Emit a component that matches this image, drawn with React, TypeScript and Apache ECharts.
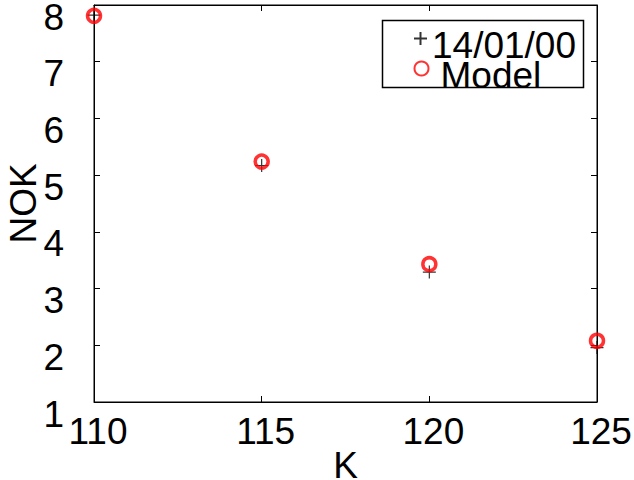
import React, { useEffect, useRef } from "react";
import * as echarts from "echarts";

const strikes = [110, 115, 120, 125];
const observed = [7.82, 5.17, 3.29, 1.96];
const model = [7.81, 5.24, 3.43, 2.08];
const seriesNames = ["14/01/00", "Model"];
const xLabel = "K";
const yLabel = "NOK";

const FONT = "Liberation Sans, Arial, Helvetica, sans-serif";
const FS = 37;
const CROSS = "path://M0,7H14M7,0V14";

export default function App() {
  const ref = useRef<HTMLDivElement>(null);
  useEffect(() => {
    if (!ref.current) return;
    const chart = echarts.init(ref.current, null, { renderer: "svg" });
    const tickStyle = { show: true, inside: true, length: 6, lineStyle: { color: "#000", width: 1 } };
    const legendRich = (spacer: number) => ({
      s: { fontSize: 1, lineHeight: spacer, width: 0 },
      t: { fontSize: FS, fontFamily: FONT, color: "#000", lineHeight: 37, verticalAlign: "bottom" },
    });
    chart.setOption({
      animation: false,
      backgroundColor: "#fff",
      textStyle: { fontFamily: FONT, color: "#000" },
      grid: {
        left: 94,
        right: 37,
        top: 5,
        bottom: 78,
        outerBoundsMode: "none",
        containLabel: false,
        show: true,
        borderColor: "#000",
        borderWidth: 1,
        backgroundColor: "transparent",
      },
      legend: [
        {
          data: [seriesNames[0]],
          left: 411.5,
          top: 27,
          padding: 0,
          itemWidth: 13,
          itemHeight: 13,
          itemGap: 0,
          formatter: "{s| }{t|{name}}",
          textStyle: { fontSize: FS, fontFamily: FONT, color: "#000", rich: legendRich(51) },
        },
        {
          data: [seriesNames[1]],
          left: 412,
          top: 57,
          padding: 0,
          itemWidth: 14,
          itemHeight: 14,
          itemGap: 0,
          formatter: "{s| }{t|{name}}",
          textStyle: { fontSize: FS, fontFamily: FONT, color: "#000", padding: [0, 0, 0, 7], rich: legendRich(51) },
        },
      ],
      graphic: [
        {
          type: "rect",
          shape: { x: 382.5, y: 20.5, width: 201, height: 67 },
          style: { fill: "none", stroke: "#000", lineWidth: 1.5 },
          z: -1,
          silent: true,
        },
      ],
      xAxis: [
        {
          type: "value",
          min: 110,
          max: 125,
          interval: 5,
          name: xLabel,
          nameLocation: "middle",
          nameGap: 63,
          nameMoveOverlap: false,
          nameTextStyle: { fontSize: FS, fontFamily: FONT, color: "#000", verticalAlign: "middle", lineHeight: 26 },
          axisLine: { show: true, lineStyle: { color: "#000", width: 1 } },
          axisTick: tickStyle,
          axisLabel: {
            fontSize: FS,
            fontFamily: FONT,
            color: "#000",
            margin: 11,
            lineHeight: 37,
            verticalAlign: "top",
            padding: [0, 0, 0, 8],
          },
          splitLine: { show: false },
        },
        {
          type: "value",
          position: "top",
          min: 110,
          max: 125,
          interval: 5,
          axisLine: { show: true, lineStyle: { color: "#000", width: 1 } },
          axisTick: tickStyle,
          axisLabel: { show: false },
          splitLine: { show: false },
        },
      ],
      yAxis: [
        {
          type: "value",
          min: 1,
          max: 8,
          interval: 1,
          name: yLabel,
          nameLocation: "middle",
          nameGap: 71,
          nameRotate: 90,
          nameMoveOverlap: false,
          nameTextStyle: { fontSize: FS, fontFamily: FONT, color: "#000", verticalAlign: "middle" },
          axisLine: { show: true, lineStyle: { color: "#000", width: 1 } },
          axisTick: tickStyle,
          axisLabel: {
            fontSize: FS,
            fontFamily: FONT,
            color: "#000",
            margin: 30,
            lineHeight: 24,
            verticalAlign: "top",
            showMinLabel: true,
            showMaxLabel: true,
          },
          splitLine: { show: false },
        },
        {
          type: "value",
          position: "right",
          min: 1,
          max: 8,
          interval: 1,
          axisLine: { show: true, lineStyle: { color: "#000", width: 1 } },
          axisTick: tickStyle,
          axisLabel: { show: false },
          splitLine: { show: false },
        },
      ],
      series: [
        {
          name: seriesNames[0],
          type: "scatter",
          xAxisIndex: 0,
          yAxisIndex: 0,
          symbol: CROSS,
          symbolSize: 13,
          itemStyle: { color: "none", borderColor: "#000", borderWidth: 1.2 },
          data: strikes.map((k, i) => [k, observed[i]]),
          z: 2,
        },
        {
          name: seriesNames[1],
          type: "scatter",
          xAxisIndex: 0,
          yAxisIndex: 0,
          symbol: "circle",
          symbolSize: 13,
          itemStyle: { color: "none", borderColor: "#ff0000", borderWidth: 3.5 },
          data: strikes.map((k, i) => [k, model[i]]),
          z: 3,
        },
      ],
    });
    return () => chart.dispose();
  }, []);
  return (
    <div
      ref={ref}
      style={{ position: "fixed", left: 0, top: 0, width: 634, height: 480, background: "#fff" }}
    />
  );
}
